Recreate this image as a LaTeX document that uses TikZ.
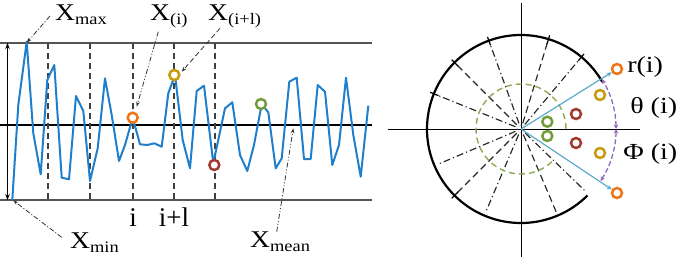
\documentclass[tikz,border=0pt]{standalone}
\usepackage{fontspec}
\setmainfont{Liberation Serif}
\usetikzlibrary{arrows.meta}
\definecolor{sig}{HTML}{1F7FCC}
\definecolor{cOr}{HTML}{F07418}
\definecolor{cGd}{HTML}{C89B0A}
\definecolor{cRd}{HTML}{A33A30}
\definecolor{cGn}{HTML}{739C3A}
\definecolor{rayblue}{HTML}{5AAACB}
\definecolor{purp}{HTML}{8E68C4}
\definecolor{greend}{HTML}{8CAA55}
\definecolor{refgray}{HTML}{555555}
\newcommand{\Xlab}[1]{\fontsize{24}{26}\selectfont X\raisebox{-4pt}{\fontsize{16}{18}\selectfont #1}}
\begin{document}
\begin{tikzpicture}[x=1pt,y=-1pt,
  ring/.style={circle, draw=#1, line width=2.5pt, fill=white, minimum size=10pt, inner sep=0pt},
  lbl/.style={inner sep=0pt, xscale=1.15},
  ilbl/.style={inner sep=0pt, font=\fontsize{27}{29}\selectfont},
  rlbl/.style={inner sep=0pt, xscale=1.22, font=\fontsize{23}{25}\selectfont},
  refline/.style={draw=refgray, line width=1.5pt},
  vdash/.style={draw=black!75, line width=1.2pt, dash pattern=on 6pt off 4pt},
  tipS/.style={-{Stealth[length=5pt,width=3.5pt]}},
  ldd/.style={draw=black!80, line width=0.8pt, dash pattern=on 5pt off 2pt on 1pt off 2pt, tipS},
  lddd/.style={draw=black!80, line width=0.8pt, dash pattern=on 5pt off 2pt on 1pt off 2pt on 1pt off 2pt, tipS},
  ldash/.style={draw=black!80, line width=0.8pt, dash pattern=on 5pt off 3pt, tipS},
  rayA/.style={draw=black!85, line width=1.15pt, dash pattern=on 7pt off 3pt on 1.2pt off 3pt},
  rayB/.style={draw=black!85, line width=1.15pt, dash pattern=on 7pt off 4pt},
  tick/.style={draw=black, line width=1.2pt},
  bluray/.style={draw=rayblue, line width=1.2pt, -{Stealth[length=5pt,width=4.5pt]}},
  purarc/.style={draw=purp, line width=1.3pt, dash pattern=on 5pt off 2.5pt, {Stealth[length=4.5pt,width=4.5pt]}-{Stealth[length=4.5pt,width=4.5pt]}}
]
\useasboundingbox (0,0) rectangle (685,260);

% ---------------- left panel ----------------
\coordinate (TL) at (0,43);   \coordinate (TR) at (372,43);
\coordinate (ML) at (0,125);  \coordinate (MR) at (372,125);
\coordinate (BL) at (0,200);  \coordinate (BR) at (372,200);
\draw[refline] (TL) -- (TR);
\draw[refline] (BL) -- (BR);
\draw[black, line width=1.1pt] (ML) -- (MR);

\coordinate (RngT) at (7.5,43);
\coordinate (RngB) at (7.5,200);
\draw[black, line width=0.9pt, {Stealth[length=6pt,width=4.5pt]}-{Stealth[length=6pt,width=4.5pt]}] (RngT) -- (RngB);

\foreach \x [count=\k] in {48,90,133,174,215}{
  \coordinate (vt\k) at (\x,43);
  \coordinate (vb\k) at (\x,200);
  \draw[vdash] (vt\k) -- (vb\k);
}

\draw[sig, line width=2pt, line join=round]
 (12.3,200) -- (18.3,105) -- (26.7,41.7) -- (33.3,133.3) -- (40.7,174.3) -- (47.3,80) -- (54.3,65)
 -- (61.7,177.7) -- (69,179.3) -- (76,96) -- (83.3,111) -- (90,181) -- (97.7,148.3) -- (105,78.3)
 -- (111.7,115) -- (119,161) -- (125,145) -- (132.7,117.7) -- (140,144.3) -- (147.3,145)
 -- (154.3,143.3) -- (161.7,146.7) -- (168.3,93.3) -- (175,75) -- (182.7,140) -- (190,168.3)
 -- (196.7,91) -- (204,85.7) -- (213.3,163.3) -- (225,108.3) -- (232.3,102.3) -- (240,155)
 -- (247.3,171) -- (254,145) -- (261.7,104.3) -- (268.3,112.3) -- (275.7,168.3) -- (281.7,158.3)
 -- (289.3,81.7) -- (296.7,77.7) -- (304,159) -- (310.7,159) -- (317.7,85) -- (325,91.7)
 -- (332.3,165) -- (339,145) -- (346,77.7) -- (353.3,135) -- (360.7,176.7) -- (368.3,105.7);

\node[ring=cOr] (mOr) at (132.7,117.7) {};
\node[ring=cGd] (mGd) at (174.3,75) {};
\node[ring=cRd] (mRd) at (214.3,165) {};
\node[ring=cGn] (mGn) at (261,104) {};

\node[lbl, anchor=base west] (xmax) at (55,20) {\Xlab{max}};
\node[lbl, anchor=base west] (xi) at (150,20) {\Xlab{(i)}};
\node[lbl, anchor=base west] (xil) at (208,20) {\Xlab{(i+l)}};
\node[lbl, anchor=base west] (xmin) at (70,248) {\Xlab{min}};
\node[lbl, anchor=base west] (xmean) at (250,247) {\Xlab{mean}};

\node[ilbl, anchor=base] (li) at (133,226.5) {i};
\node[ilbl, anchor=base] (lil) at (174,226.5) {i+l};

\coordinate (pMaxS) at (50,16);    \coordinate (pMaxE) at (26.7,42.7);
\coordinate (pIS) at (158.3,31.7); \coordinate (pIE) at (136.7,106.7);
\coordinate (pILS) at (220,28.3);  \coordinate (pILE) at (181.7,71.7);
\coordinate (pMinS) at (61.7,237.3); \coordinate (pMinE) at (13.3,200.5);
\coordinate (pMeanS) at (276.7,231.7); \coordinate (pMeanE) at (293.3,128.3);
\draw[ldd] (pMaxS) -- (pMaxE);
\draw[lddd] (pIS) -- (pIE);
\draw[ldash] (pILS) -- (pILE);
\draw[ldd] (pMinS) -- (pMinE);
\draw[lddd] (pMeanS) -- (pMeanE);

% ---------------- right panel ----------------
\coordinate (O) at (521,129);
\begin{scope}[shift={(521,129)}, yscale=-1]
  \coordinate (axL) at (-133,0); \coordinate (axR) at (119,0);
  \coordinate (axT) at (0,126);  \coordinate (axB) at (0,-128);
  \draw[black, line width=1pt] (axL) -- (axR);
  \draw[black, line width=1pt] (axT) -- (axB);

  \foreach \a/\s in {50/rayA,73/rayB,110/rayA,135/rayB,158/rayA,203/rayA,225/rayB,247/rayA,293/rayB,316/rayA}{
    \draw[\s] (\a:6) -- (\a:91);
  }
  \foreach \a in {50,73,110,135,158,225}{
    \draw[tick] (\a:89) -- (\a:98);
  }
  \draw[black!50, line width=0.6pt, densely dotted] (0,0) circle[radius=4];

  \draw[black, line width=2.2pt] (30:94) arc[start angle=30, end angle=315, radius=94];
  \draw[greend, line width=1.4pt, dash pattern=on 6pt off 4pt] (0:45) arc[start angle=0, end angle=315, radius=45];

  \draw[purarc] (0:95) arc[start angle=0, end angle=31.5, radius=95];
  \draw[purarc] (0:95) arc[start angle=0, end angle=-33.2, radius=95];

  \node[ring=cOr] (rOr1) at (96,60) {};
  \node[ring=cOr] (rOr2) at (96,-64) {};
  \node[ring=cGd] (rGd1) at (79,34) {};
  \node[ring=cGd] (rGd2) at (79,-24) {};
  \node[ring=cRd] (rRd1) at (55,15) {};
  \node[ring=cRd] (rRd2) at (55,-14) {};
  \node[ring=cGn] (rGn1) at (26.3,7.3) {};
  \node[ring=cGn] (rGn2) at (26.3,-7) {};
\end{scope}
\draw[bluray] (O) -- (rOr1);
\draw[bluray] (O) -- (rOr2);

\node[rlbl, anchor=base west] (lr) at (627,72) {r(i)};
\node[rlbl, anchor=base west] (lth) at (630,113) {θ (i)};
\node[rlbl, anchor=base west] (lph) at (623,159) {Φ (i)};
\end{tikzpicture}
\end{document}
